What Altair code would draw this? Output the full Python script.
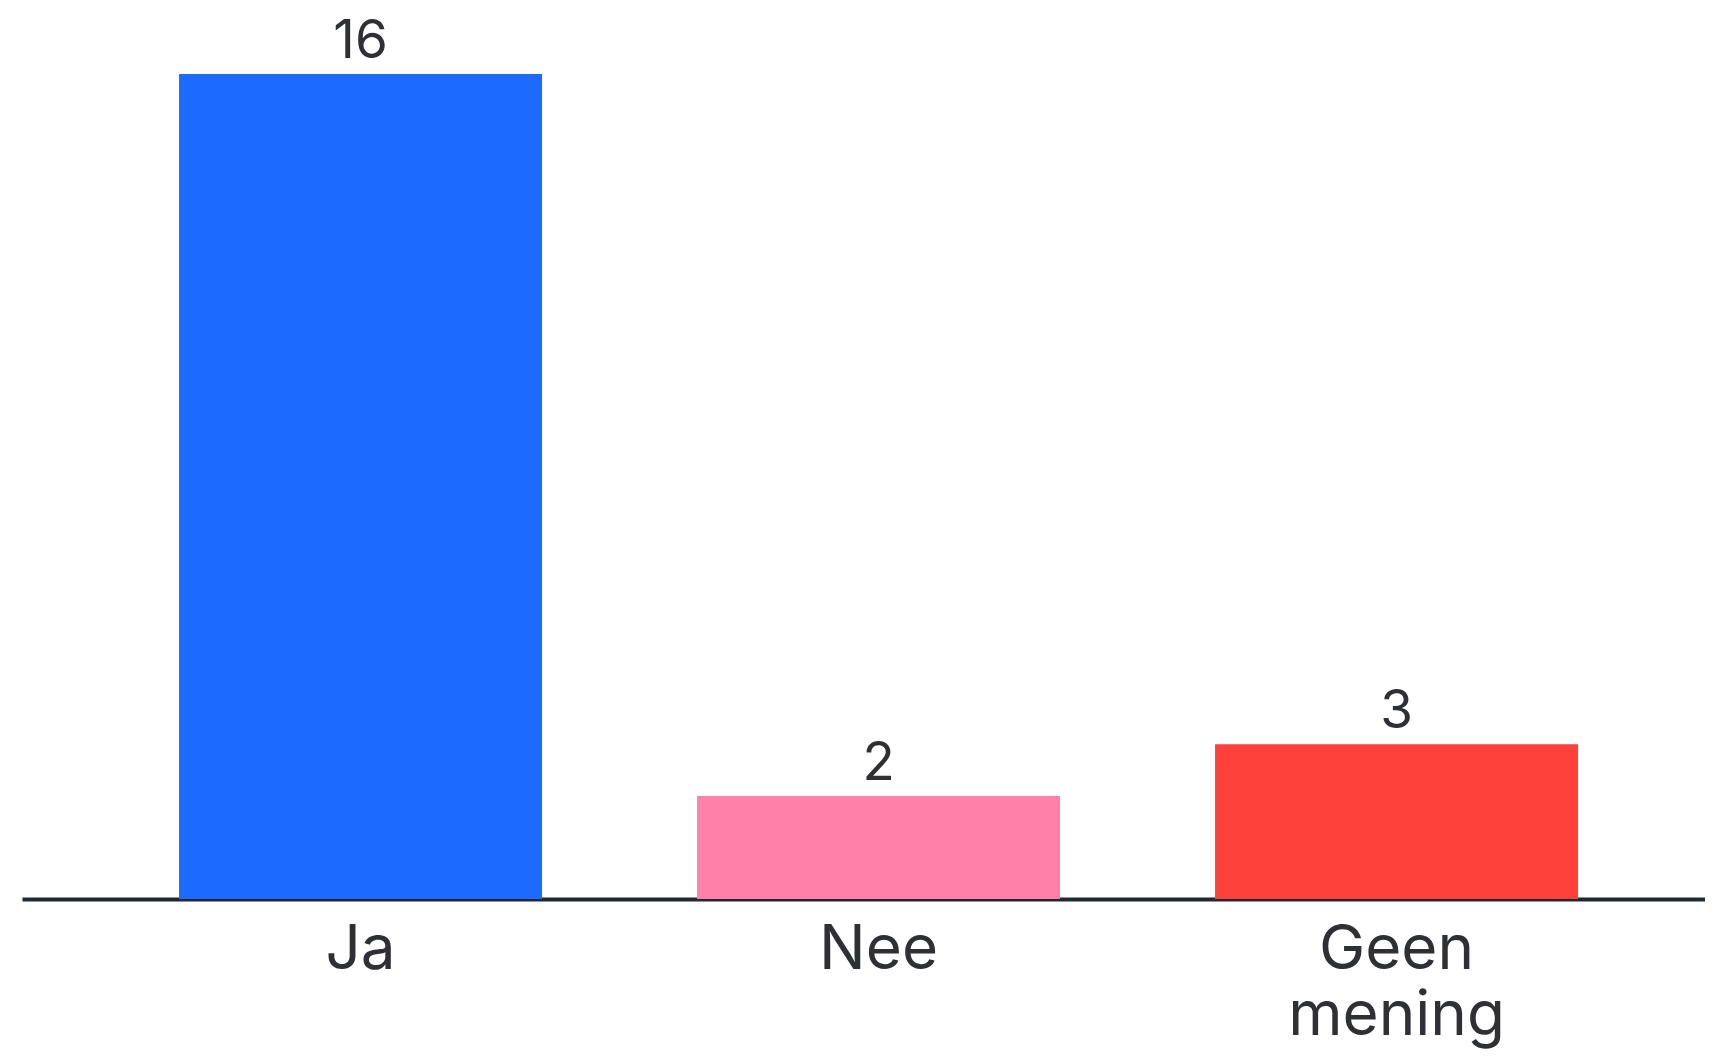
import altair as alt
import pandas as pd

categories = ["Ja", "Nee", "Geen mening"]
values = [16, 2, 3]
colors = ["#1D6AFF", "#FF80A8", "#FF413C"]

df = pd.DataFrame({"cat": categories, "val": values})

FONT = "Inter"
TEXT_COLOR = "#2f3033"

x_enc = alt.X(
    "cat:N",
    sort=categories,
    scale=alt.Scale(paddingInner=0.2992, paddingOuter=0.2741, align=0.553),
    axis=alt.Axis(
        title=None,
        labelAngle=0,
        ticks=False,
        domain=True,
        domainColor="#23272f",
        domainWidth=4,
        labelFont=FONT,
        labelFontSize=62,
        labelColor=TEXT_COLOR,
        labelPadding=20,
        labelLineHeight=66,
        labelBaseline="top",
        labelLimit=0,
        labelOverlap=False,
        labelExpr="split(datum.label, ' ')",
        grid=False,
    ),
)
y_enc = alt.Y("val:Q", scale=alt.Scale(domain=[0, 16], nice=False, zero=True), axis=None)

bars = alt.Chart(df).mark_bar().encode(
    x=x_enc,
    y=y_enc,
    color=alt.Color("cat:N", scale=alt.Scale(domain=categories, range=colors), legend=None),
)

labels = alt.Chart(df).mark_text(
    baseline="alphabetic", dy=-16, font=FONT, fontSize=53, color=TEXT_COLOR
).encode(
    x=alt.X("cat:N", sort=categories),
    y="val:Q",
    text="val:Q",
)

chart = (
    alt.layer(bars, labels)
    .properties(
        width=1683,
        height=825,
        autosize=alt.AutoSizeParams(type="none"),
        padding={"left": 14, "top": 66, "right": 0, "bottom": 150},
        background="#ffffff",
    )
    .configure_view(stroke=None)
)

chart.save("out.html", embed_options={"renderer": "svg", "actions": False})
